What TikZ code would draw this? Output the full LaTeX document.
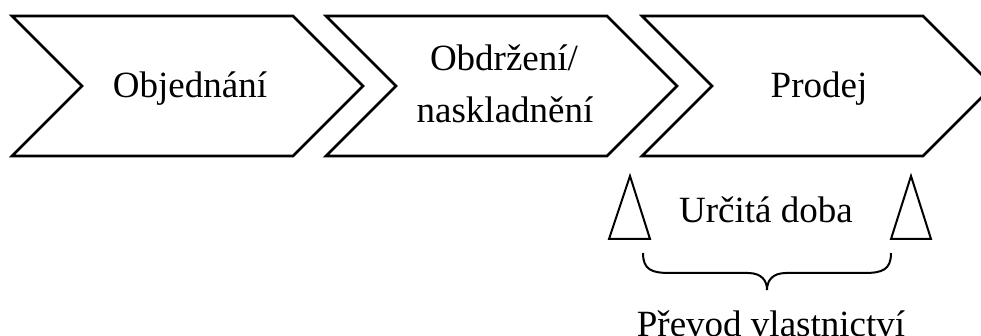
\documentclass[tikz,border=0pt]{standalone}
\usepackage{fontspec}
\setmainfont{Liberation Serif}
\begin{document}
\begin{tikzpicture}[x=1pt,y=-1pt,
  chevron/.style={draw=black,line width=2.6pt,line join=miter,fill=white},
  marker/.style={draw=black,line width=2pt,line join=miter},
  bracepath/.style={draw=black,line width=2pt},
  lbl/.style={font=\fontsize{37}{52}\selectfont,inner sep=0pt,anchor=base,align=center}]
\useasboundingbox (0,0) rectangle (981,336);
\clip (0,0) rectangle (981,336);

% process chevrons: corner x, notch depth 70, half height 70
\foreach \n/\x in {a/12,b/326,c/642}{
  \path[chevron] (\x,16) -- ++(281,0) -- ++(70,70) -- ++(-70,70)
    -- ++(-281,0) -- ++(70,-70) -- cycle;
}

\node[lbl] (order) at (190,98) {Objednání};
\node[lbl] (receipt1) at (504,71) {Obdržení/};
\node[lbl] (receipt2) at (505,123) {naskladnění};
\node[lbl] (sale) at (819,98) {Prodej};

% period markers
\coordinate (tl) at (630,176);
\coordinate (tr) at (911,176);
\path[marker] (tl) -- (650,239) -- (609,239) -- cycle;
\path[marker] (tr) -- (931,239) -- (891,239) -- cycle;

\node[lbl] (period) at (766,223) {Určitá doba};

% curly brace
\coordinate (bl) at (643,253);
\coordinate (br) at (891,253);
\coordinate (bt) at (767,290);
\path[bracepath] (bl) .. controls (643,270) and (652,273) .. (670,273)
  -- (748,273) .. controls (762,273) and (767,281) .. (bt)
  .. controls (767,281) and (772,273) .. (786,273)
  -- (864,273) .. controls (882,273) and (891,270) .. (br);

\node[lbl] (transfer) at (771,336) {Převod vlastnictví};
\end{tikzpicture}
\end{document}
